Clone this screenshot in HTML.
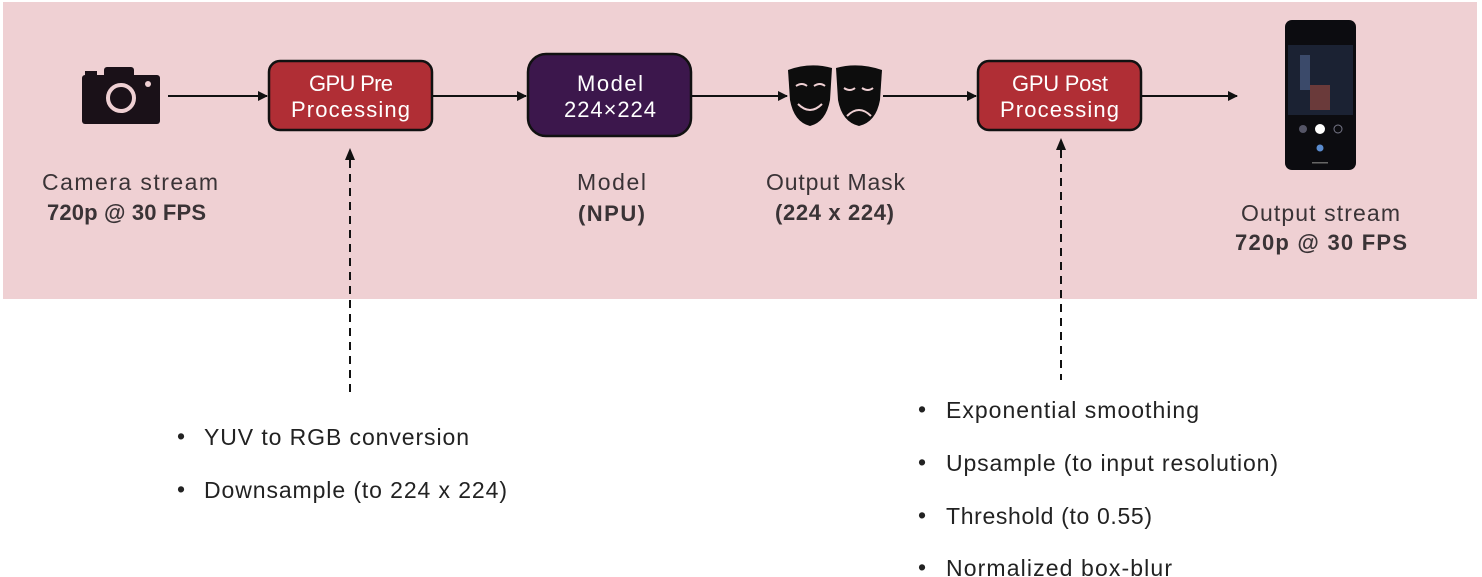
<!DOCTYPE html>
<html><head><meta charset="utf-8"><style>
html,body{margin:0;padding:0;background:#fff;}
svg{display:block;}
text{font-family:"Liberation Sans",sans-serif;}
</style></head><body>
<svg width="1482" height="577" viewBox="0 0 1482 577" xmlns="http://www.w3.org/2000/svg">
<defs>
<marker id="ah" markerWidth="10" markerHeight="10" refX="9" refY="5" orient="auto" markerUnits="userSpaceOnUse"><path d="M0,0 L10,5 L0,10 z" fill="#111"/></marker>
</defs>
<rect x="3" y="2" width="1474" height="297" fill="#efd0d3"/>
<!-- camera -->
<rect x="82" y="75" width="78" height="49" rx="3" fill="#1a1118"/>
<rect x="104" y="67" width="30" height="12" rx="3" fill="#1a1118"/>
<rect x="85" y="71" width="12" height="6" fill="#1a1118"/>
<circle cx="121" cy="98" r="13" fill="none" stroke="#efd0d3" stroke-width="4"/>
<circle cx="148" cy="84" r="3" fill="#efd0d3"/>
<!-- arrows -->
<g stroke="#111" stroke-width="2" marker-end="url(#ah)">
<line x1="168" y1="96" x2="267" y2="96"/>
<line x1="433" y1="96" x2="526" y2="96"/>
<line x1="692" y1="96" x2="787" y2="96"/>
<line x1="883" y1="96" x2="976" y2="96"/>
<line x1="1142" y1="96" x2="1237" y2="96"/>
</g>
<!-- boxes -->
<rect x="269" y="61" width="163" height="69" rx="11" fill="#b02e35" stroke="#111" stroke-width="2.5"/>
<text x="309" y="91" font-size="22" fill="#fff" textLength="84">GPU Pre</text>
<text x="291" y="117" font-size="22" fill="#fff" textLength="119">Processing</text>
<rect x="528" y="54" width="163" height="82" rx="18" fill="#3c174c" stroke="#111" stroke-width="2.5"/>
<text x="577" y="91" font-size="22" fill="#fff" textLength="66">Model</text>
<text x="564" y="117" font-size="22" fill="#fff" textLength="92">224×224</text>
<rect x="978" y="61" width="163" height="69" rx="11" fill="#b02e35" stroke="#111" stroke-width="2.5"/>
<text x="1012" y="91" font-size="22" fill="#fff" textLength="96">GPU Post</text>
<text x="1000" y="117" font-size="22" fill="#fff" textLength="119">Processing</text>
<!-- masks -->
<path d="M788,70 Q810,62 832,68 L830,100 Q826,122 810,126 Q794,122 790,100 Z" fill="#0d0d0d"/>
<path d="M836,68 Q858,62 882,70 L880,100 Q876,122 859,126 Q842,122 838,100 Z" fill="#0d0d0d"/>
<g stroke="#efd0d3" stroke-width="2" fill="none">
<path d="M796,86 q6,-4 11,0 M814,86 q6,-4 11,0"/>
<path d="M798,104 q12,12 24,0"/>
<path d="M844,88 q6,4 11,0 M862,88 q6,4 11,0"/>
<path d="M847,116 q12,-12 24,0"/>
</g>
<!-- phone -->
<rect x="1285" y="20" width="71" height="150" rx="7" fill="#0c0c10"/>
<rect x="1288" y="45" width="65" height="70" fill="#1b2233"/>
<rect x="1300" y="55" width="10" height="35" fill="#3b4a6a"/>
<rect x="1310" y="85" width="20" height="25" fill="#6a3a3a"/>
<circle cx="1320" cy="129" r="5" fill="#fff"/>
<circle cx="1303" cy="129" r="4" fill="#556"/>
<circle cx="1338" cy="129" r="4" fill="none" stroke="#778" stroke-width="1"/>
<circle cx="1320" cy="148" r="3.5" fill="#5a8ccf"/>
<rect x="1312" y="162" width="16" height="1.5" fill="#666"/>
<!-- dashed -->
<g stroke="#111" stroke-width="2" stroke-dasharray="8,6">
<line x1="350" y1="160" x2="350" y2="393"/>
<line x1="1061" y1="150" x2="1061" y2="380"/>
</g>
<path d="M345,160 L350,148 L355,160 Z" fill="#111"/>
<path d="M1056,150 L1061,138 L1066,150 Z" fill="#111"/>
<!-- labels -->
<g fill="#3a3336" font-size="23">
<text x="42" y="190" textLength="176">Camera stream</text>
<text x="47" y="220" font-weight="bold" font-size="22" textLength="159">720p @ 30 FPS</text>
<text x="577" y="190" textLength="69">Model</text>
<text x="578" y="221" font-weight="bold" font-size="22" textLength="67">(NPU)</text>
<text x="766" y="190" textLength="139">Output Mask</text>
<text x="775" y="220" font-weight="bold" font-size="22" textLength="119">(224 x 224)</text>
<text x="1241" y="221" textLength="159">Output stream</text>
<text x="1235" y="250" font-weight="bold" font-size="22" textLength="172">720p @ 30 FPS</text>
</g>
<g fill="#222" font-size="23">
<text x="177" y="444">•</text><text x="204" y="445" textLength="265">YUV to RGB conversion</text>
<text x="177" y="497">•</text><text x="204" y="498" textLength="303">Downsample (to 224 x 224)</text>
<text x="918" y="417">•</text><text x="946" y="418" textLength="253">Exponential smoothing</text>
<text x="918" y="470">•</text><text x="946" y="471" textLength="332">Upsample (to input resolution)</text>
<text x="918" y="523">•</text><text x="946" y="524" textLength="206">Threshold (to 0.55)</text>
<text x="918" y="575">•</text><text x="946" y="576" textLength="226">Normalized box-blur</text>
</g>
</svg>
</body></html>
